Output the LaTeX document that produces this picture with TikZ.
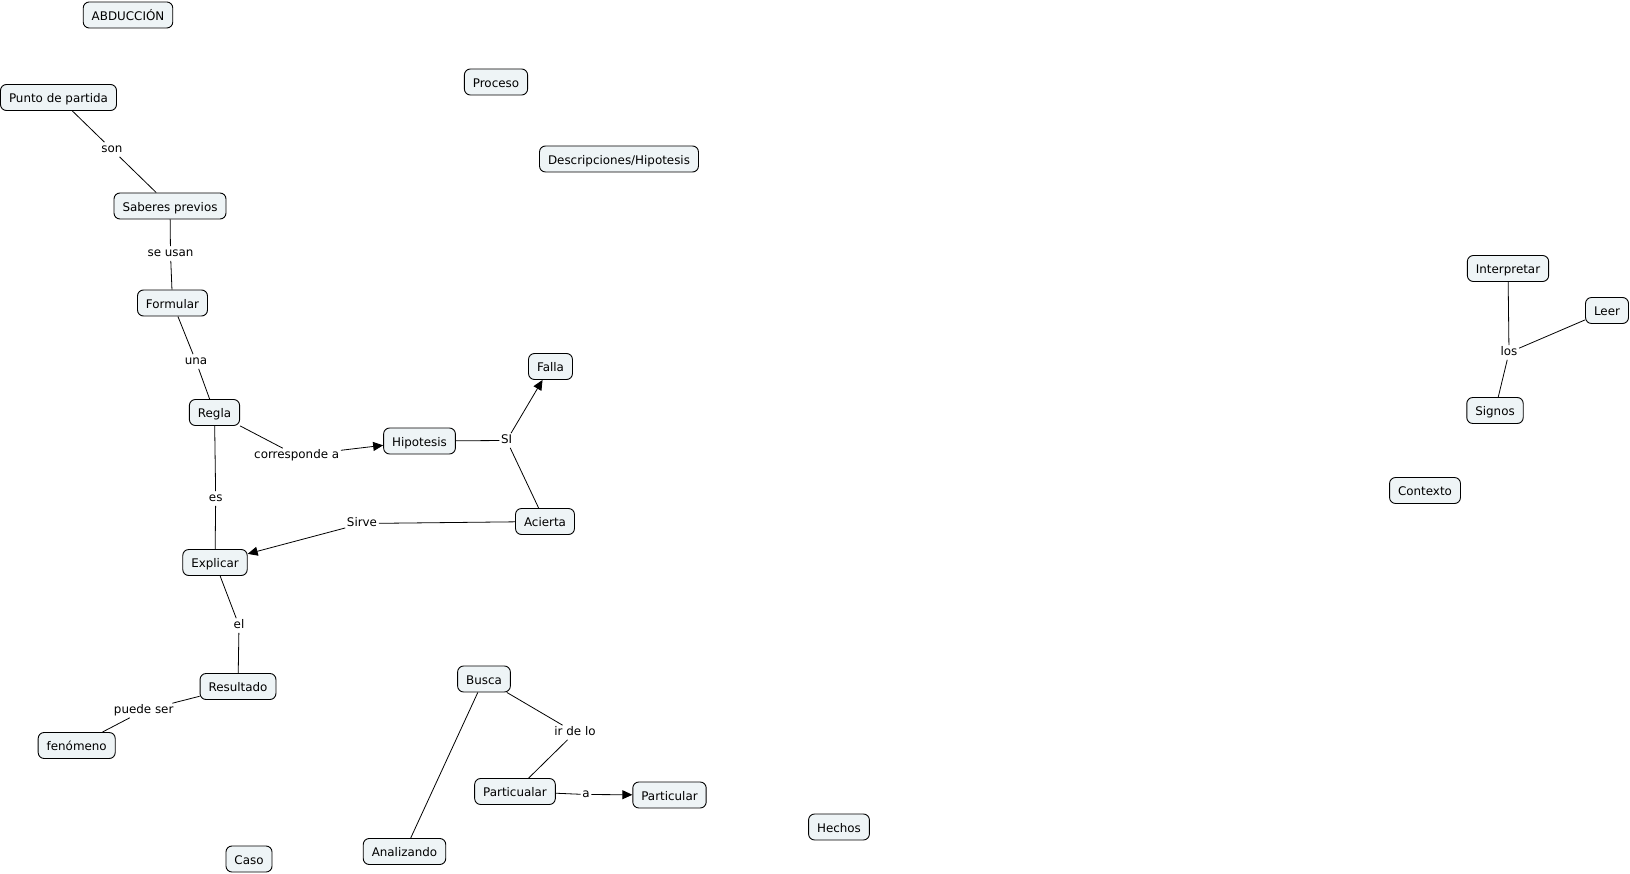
\documentclass[tikz,border=0pt]{standalone}
\usepackage{fontspec}
\setmainfont{DejaVu Sans}
\usetikzlibrary{arrows.meta}
\definecolor{boxfill}{HTML}{EEF4F6}
\tikzset{
  concept/.style={draw=black, line width=0.9pt, fill=boxfill, rounded corners=6pt,
    inner xsep=8.5pt, inner ysep=0pt, minimum height=26pt,
    text height=10.6pt, text depth=0pt, font=\fontsize{11.9}{13}\selectfont},
  link/.style={inner sep=1.5pt, text height=8.8pt, text depth=2.4pt,
    font=\fontsize{11.9}{13}\selectfont},
  conn/.style={draw=black, line width=0.8pt},
  arr/.style={conn, -{Triangle[length=10pt,width=9pt]}}
}
\begin{document}
\begin{tikzpicture}[x=1pt,y=-1pt]
\useasboundingbox (0,0) rectangle (1630,874);
% concepts
\node[concept] (abd) at (128,15) {ABDUCCIÓN};
\node[concept] (punto) at (58.5,97.5) {Punto de partida};
\node[concept] (saberes) at (170,206) {Saberes previos};
\node[concept] (proceso) at (496,82) {Proceso};
\node[concept] (desc) at (619,159) {Descripciones/Hipotesis};
\node[concept] (formular) at (172.5,303) {Formular};
\node[concept] (regla) at (214.5,412.5) {Regla};
\node[concept] (hipo) at (419.5,441) {Hipotesis};
\node[concept] (falla) at (550.5,366.5) {Falla};
\node[concept] (acierta) at (545,521.5) {Acierta};
\node[concept] (explicar) at (215,562.5) {Explicar};
\node[concept] (resultado) at (238,686.5) {Resultado};
\node[concept] (fenomeno) at (76.7,745.5) {fenómeno};
\node[concept] (caso) at (249,859) {Caso};
\node[concept] (busca) at (484,679) {Busca};
\node[concept] (particualar) at (515,791.5) {Particualar};
\node[concept] (particular) at (669.5,795) {Particular};
\node[concept] (analizando) at (404.5,851.5) {Analizando};
\node[concept] (hechos) at (839,827) {Hechos};
\node[concept] (contexto) at (1425,490.5) {Contexto};
\node[concept] (interpretar) at (1508,268.5) {Interpretar};
\node[concept] (leer) at (1607,310.5) {Leer};
\node[concept] (signos) at (1495,410.5) {Signos};
% linking phrases
\node[link] (son) at (112,149.5) {son};
\node[link] (seusan) at (170.5,253.5) {se usan};
\node[link] (una) at (196,361.5) {una};
\node[link] (corr) at (296.7,455.5) {corresponde a};
\node[link] (si) at (506.7,440.5) {SI};
\node[link] (sirve) at (362,523.5) {Sirve};
\node[link] (es) at (215.7,498.5) {es};
\node[link] (el) at (239,625.5) {el};
\node[link] (puede) at (143.7,710.5) {puede ser};
\node[link] (irdelo) at (575,732.5) {ir de lo};
\node[link] (a) at (586,794.5) {a};
\node[link] (los) at (1509,352.5) {los};
% connectors
\draw[conn] (punto) -- (son);
\draw[conn] (son) -- (saberes);
\draw[conn] (saberes) -- (seusan);
\draw[conn] (seusan) -- (formular);
\draw[conn] (formular) -- (una);
\draw[conn] (una) -- (regla);
\draw[conn] (regla) -- (corr);
\draw[arr] (corr) -- (hipo);
\draw[conn] (regla) -- (es);
\draw[conn] (es) -- (explicar);
\draw[conn] (hipo) -- (si);
\draw[arr] (si) -- (falla);
\draw[conn] (si) -- (acierta);
\draw[conn] (acierta) -- (sirve);
\draw[arr] (sirve) -- (explicar);
\draw[conn] (explicar) -- (el);
\draw[conn] (el) -- (resultado);
\draw[conn] (resultado) -- (puede);
\draw[conn] (puede) -- (fenomeno);
\draw[conn] (busca) -- (irdelo);
\draw[conn] (irdelo) -- (particualar);
\draw[conn] (particualar) -- (a);
\draw[arr] (a) -- (particular);
\draw[conn] (busca) -- (analizando);
\draw[conn] (interpretar) -- (los);
\draw[conn] (leer) -- (los);
\draw[conn] (los) -- (signos);
\end{tikzpicture}
\end{document}
